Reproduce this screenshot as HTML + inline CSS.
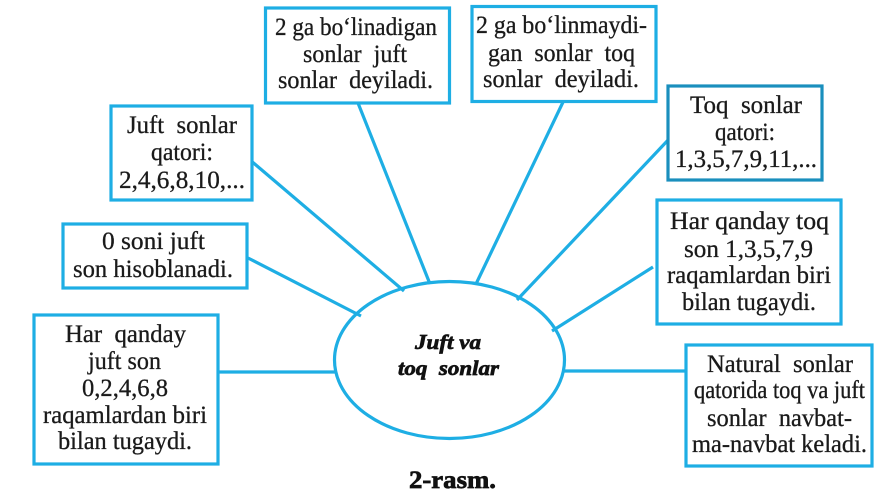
<!DOCTYPE html>
<html>
<head>
<meta charset="utf-8">
<style>
html,body{margin:0;padding:0;background:#fff;}
svg{display:block;}
text{font-family:"Liberation Serif",serif;font-size:25px;fill:#1a1a1a;stroke:#1a1a1a;stroke-width:.3px;white-space:pre;}
.c{font-weight:bold;font-style:italic;font-size:21px;fill:#111;stroke:#111;stroke-width:.7px;}
.r{font-weight:bold;font-size:25px;fill:#111;stroke:#111;stroke-width:.7px;}
rect{fill:#fff;stroke:#1eaee4;stroke-width:3.2;}
line{stroke:#1eaee4;stroke-width:3.2;}
ellipse{fill:#fff;stroke:#1eaee4;stroke-width:3.2;}
</style>
</head>
<body>
<svg width="890" height="499" viewBox="0 0 890 499" xmlns="http://www.w3.org/2000/svg">
<rect x="0" y="0" width="890" height="499" style="fill:#fff;stroke:none"/>
<ellipse cx="449.5" cy="360" rx="115" ry="78.5"/>
<line x1="358" y1="103" x2="430" y2="284"/>
<line x1="564" y1="100" x2="476" y2="284"/>
<line x1="670" y1="138" x2="517" y2="300"/>
<line x1="653" y1="267" x2="552" y2="331"/>
<line x1="564" y1="371" x2="686" y2="371"/>
<line x1="250" y1="160" x2="404" y2="291"/>
<line x1="248" y1="258" x2="361" y2="316"/>
<line x1="219" y1="372" x2="335" y2="372"/>
<rect x="265.5" y="8" width="184" height="95"/>
<rect x="472" y="6.5" width="184" height="95"/>
<rect x="668" y="86" width="154" height="94" style="stroke:#1a8fbd"/>
<rect x="657" y="200" width="184" height="124"/>
<rect x="686" y="345" width="186" height="121"/>
<rect x="111" y="106" width="141" height="94"/>
<rect x="63" y="224" width="184" height="64"/>
<rect x="34" y="315" width="184" height="149"/>

<text x="275" y="35" textLength="162" lengthAdjust="spacingAndGlyphs">2 ga bo‘linadigan</text>
<text x="303" y="62" textLength="104" lengthAdjust="spacingAndGlyphs">sonlar  juft</text>
<text x="278" y="88" textLength="155" lengthAdjust="spacingAndGlyphs">sonlar  deyiladi.</text>

<text x="476" y="33" textLength="171" lengthAdjust="spacingAndGlyphs">2 ga bo‘linmaydi-</text>
<text x="488" y="61" textLength="147" lengthAdjust="spacingAndGlyphs">gan  sonlar  toq</text>
<text x="483" y="87" textLength="156" lengthAdjust="spacingAndGlyphs">sonlar  deyiladi.</text>

<text x="690" y="113" textLength="112" lengthAdjust="spacingAndGlyphs">Toq  sonlar</text>
<text x="715" y="140" textLength="60" lengthAdjust="spacingAndGlyphs">qatori:</text>
<text x="675" y="167" textLength="142" lengthAdjust="spacingAndGlyphs">1,3,5,7,9,11,...</text>

<text x="670" y="229" textLength="159" lengthAdjust="spacingAndGlyphs">Har qanday toq</text>
<text x="684" y="257" textLength="129" lengthAdjust="spacingAndGlyphs">son 1,3,5,7,9</text>
<text x="667" y="283" textLength="164" lengthAdjust="spacingAndGlyphs">raqamlardan biri</text>
<text x="682" y="310" textLength="134" lengthAdjust="spacingAndGlyphs">bilan tugaydi.</text>

<text x="707" y="372" textLength="146" lengthAdjust="spacingAndGlyphs">Natural  sonlar</text>
<text x="694" y="398" textLength="171" lengthAdjust="spacingAndGlyphs">qatorida toq va juft</text>
<text x="707" y="426" textLength="145" lengthAdjust="spacingAndGlyphs">sonlar  navbat-</text>
<text x="692" y="452" textLength="175" lengthAdjust="spacingAndGlyphs">ma-navbat keladi.</text>

<text x="127" y="133" textLength="110" lengthAdjust="spacingAndGlyphs">Juft  sonlar</text>
<text x="151" y="160" textLength="62" lengthAdjust="spacingAndGlyphs">qatori:</text>
<text x="119" y="188" textLength="126" lengthAdjust="spacingAndGlyphs">2,4,6,8,10,...</text>

<text x="102" y="249" textLength="103" lengthAdjust="spacingAndGlyphs">0 soni juft</text>
<text x="73" y="277" textLength="160" lengthAdjust="spacingAndGlyphs">son hisoblanadi.</text>

<text x="65" y="342" textLength="121" lengthAdjust="spacingAndGlyphs">Har  qanday</text>
<text x="88" y="369" textLength="73" lengthAdjust="spacingAndGlyphs">juft son</text>
<text x="82" y="396" textLength="86" lengthAdjust="spacingAndGlyphs">0,2,4,6,8</text>
<text x="43" y="423" textLength="164" lengthAdjust="spacingAndGlyphs">raqamlardan biri</text>
<text x="58" y="449" textLength="134" lengthAdjust="spacingAndGlyphs">bilan tugaydi.</text>

<text class="c" x="415" y="349" textLength="66" lengthAdjust="spacingAndGlyphs">Juft va</text>
<text class="c" x="398" y="375" textLength="101" lengthAdjust="spacingAndGlyphs">toq  sonlar</text>
<text class="r" x="409" y="488" textLength="87" lengthAdjust="spacingAndGlyphs">2-rasm.</text>
</svg>
</body>
</html>
